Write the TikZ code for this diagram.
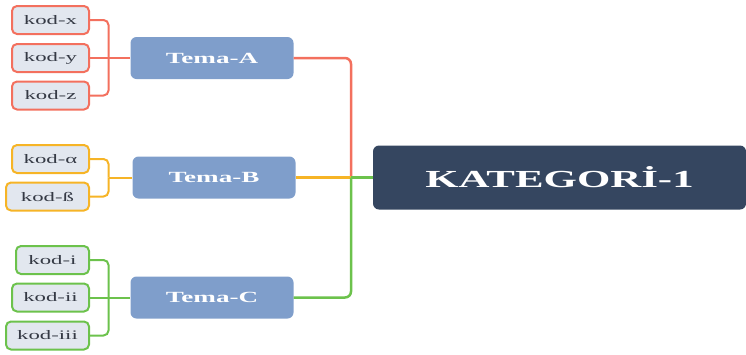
\documentclass[tikz,border=0pt]{standalone}
\usepackage{fontspec}
\setmainfont{Liberation Serif}
\newfontfamily\widefont{Liberation Serif}[FakeStretch=1.75]
\definecolor{cred}{HTML}{F3705E}
\definecolor{corange}{HTML}{F6B426}
\definecolor{cgreen}{HTML}{6CC24C}
\definecolor{kodfill}{HTML}{E2E7EF}
\definecolor{temafill}{HTML}{7F9ECB}
\definecolor{katfill}{HTML}{354660}
\definecolor{kodtext}{HTML}{353A45}
\tikzset{
  kod/.style={draw, line width=2pt, fill=kodfill, rounded corners=5pt, anchor=east,
    minimum height=28pt, inner sep=0pt, text=kodtext, font=\widefont\fontsize{13}{13}\selectfont},
  tema/.style={fill=temafill, rounded corners=6pt, minimum width=163pt, minimum height=42pt,
    inner sep=0pt, text=white, font=\widefont\bfseries\fontsize{15.5}{15.5}\selectfont},
  kat/.style={fill=katfill, rounded corners=6pt, minimum width=373pt, minimum height=64pt,
    inner sep=0pt, text=white, font=\widefont\bfseries\fontsize{24.5}{24.5}\selectfont},
  brk/.style={line width=2pt, rounded corners=5pt},
  trunk/.style={line width=2.5pt, rounded corners=6pt}
}
\begin{document}
\begin{tikzpicture}[x=1pt,y=-1pt]
\useasboundingbox (0,0) rectangle (746,354);
% main
\node[kat] (kat) at (559.5,177.5) {KATEGORİ-1};
\node[tema] (tA) at (212,58) {Tema-A};
\node[tema] (tB) at (214,177.5) {Tema-B};
\node[tema] (tC) at (212,297.5) {Tema-C};
% kod nodes
\node[kod, draw=cred, minimum width=77pt] (kx) at (90,20) {kod-x};
\node[kod, draw=cred, minimum width=77pt] (ky) at (90,58) {kod-y};
\node[kod, draw=cred, minimum width=77pt] (kz) at (90,95.5) {kod-z};
\node[kod, draw=corange, minimum width=77pt] (ka) at (90,159) {kod-α};
\node[kod, draw=corange, minimum width=83pt] (kb) at (90,196.5) {kod-ß};
\node[kod, draw=cgreen, minimum width=73pt] (ki) at (90,260) {kod-i};
\node[kod, draw=cgreen, minimum width=77pt] (kii) at (90,297.5) {kod-ii};
\node[kod, draw=cgreen, minimum width=83pt] (kiii) at (90,335.5) {kod-iii};
% junctions
\coordinate (jA) at (108.5,58);
\coordinate (jB) at (108.5,177.5);
\coordinate (jC) at (108.5,297.5);
\coordinate (jK) at (351,177.5);
% brackets
\draw[brk, cred] (kx.east) -| (jA);
\draw[brk, cred] (kz.east) -| (jA);
\draw[brk, cred] (ky.east) -- (tA.west);
\draw[brk, corange] (ka.east) -| (jB);
\draw[brk, corange] (kb.east) -| (jB);
\draw[brk, corange] (jB) -- (tB.west);
\draw[brk, cgreen] (ki.east) -| (jC);
\draw[brk, cgreen] (kiii.east) -| (jC);
\draw[brk, cgreen] (kii.east) -- (tC.west);
% trunk
\draw[trunk, cred] (tA.east) -| (jK);
\draw[trunk, corange] (tB.east) -- (jK);
\draw[trunk, cgreen] (jK) |- (tC.east);
\draw[trunk, cgreen] (jK) -- (kat.west);
\end{tikzpicture}
\end{document}
